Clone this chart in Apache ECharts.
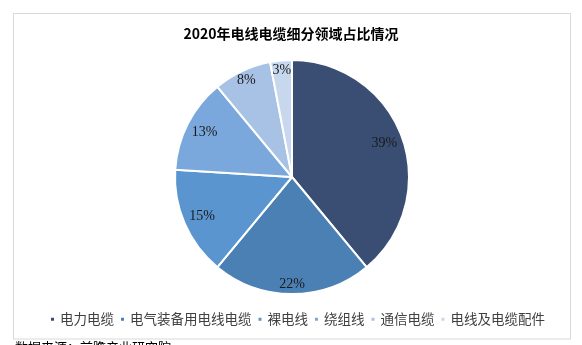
<!DOCTYPE html>
<html>
<head>
<meta charset="utf-8">
<script src="https://cdn.jsdelivr.net/npm/echarts@6/dist/echarts.min.js"></script>
<style>
  html, body { margin: 0; padding: 0; background: #ffffff; }
  #chart { width: 582px; height: 345px; }
</style>
</head>
<body>
<div id="chart"></div>
<script>
// 2020年电线电缆细分领域占比（%）
const categories = ['电力电缆', '电气装备用电线电缆', '裸电线', '绕组线', '通信电缆', '电线及电缆配件'];
const shares = [39, 22, 15, 13, 8, 3];
const sliceColors = ['#3a4e74', '#4b80b4', '#5a95cf', '#7ba8dc', '#a7c2e5', '#c6d7ee'];
// which label ring each slice's percentage sits on (0 = inner, 1 = outer)
const labelRing = [0, 1, 0, 0, 1, 1];

const chart = echarts.init(document.getElementById('chart'), null, { renderer: 'canvas' });

const cx = 292, cy = 177, R = 117;

const pieData = categories.map((name, i) => ({
  name: name,
  value: shares[i],
  itemStyle: { color: sliceColors[i] }
}));

// Transparent copies of the slices that only carry the percentage labels
function labelRingData(ring) {
  return categories.map((name, i) => ({
    name: name,
    value: shares[i],
    label: { show: labelRing[i] === ring }
  }));
}

const labelStyle = {
  position: 'inside',
  formatter: '{c}%',
  fontFamily: '"Liberation Serif", "Times New Roman", serif',
  fontSize: 14,
  color: '#1a1a1a'
};

function labelSeries(ring, inner) {
  return {
    type: 'pie',
    center: [cx, cy],
    radius: [inner, R],
    startAngle: 90,
    clockwise: true,
    data: labelRingData(ring),
    itemStyle: { color: 'rgba(0,0,0,0)', borderWidth: 0 },
    label: labelStyle,
    labelLine: { show: false },
    legendHoverLink: false,
    emphasis: { disabled: true },
    silent: true,
    z: 5
  };
}

chart.setOption({
  animation: false,
  backgroundColor: '#ffffff',
  title: {
    text: '2020年电线电缆细分领域占比情况',
    left: 'center',
    top: 22,
    textStyle: {
      fontFamily: '"Noto Sans CJK SC", sans-serif',
      fontSize: 14,
      fontWeight: 'bold',
      color: '#000000'
    }
  },
  legend: {
    bottom: 14,
    left: 44,
    data: categories,
    itemWidth: 5,
    itemHeight: 5,
    itemGap: 5,
    icon: 'rect',
    textStyle: {
      fontFamily: '"Noto Sans CJK SC", sans-serif',
      fontSize: 13.5,
      color: '#404040'
    }
  },
  graphic: [
    {
      type: 'rect',
      shape: { x: 13.5, y: 13.5, width: 557, height: 325.5 },
      style: { fill: null, stroke: '#d9d9d9', lineWidth: 1 },
      silent: true,
      z: -10
    },
    {
      type: 'text',
      left: 15,
      top: 341,
      style: {
        text: '数据来源：前瞻产业研究院',
        font: '13px "Noto Sans CJK SC", sans-serif',
        fill: '#000000'
      },
      silent: true
    }
  ],
  series: [
    {
      type: 'pie',
      center: [cx, cy],
      radius: [0, R],
      startAngle: 90,
      clockwise: true,
      data: pieData,
      itemStyle: { borderColor: '#ffffff', borderWidth: 2 },
      label: { show: false },
      labelLine: { show: false },
      emphasis: { disabled: true }
    },
    labelSeries(0, 73),
    labelSeries(1, 91)
  ]
});
</script>
</body>
</html>
